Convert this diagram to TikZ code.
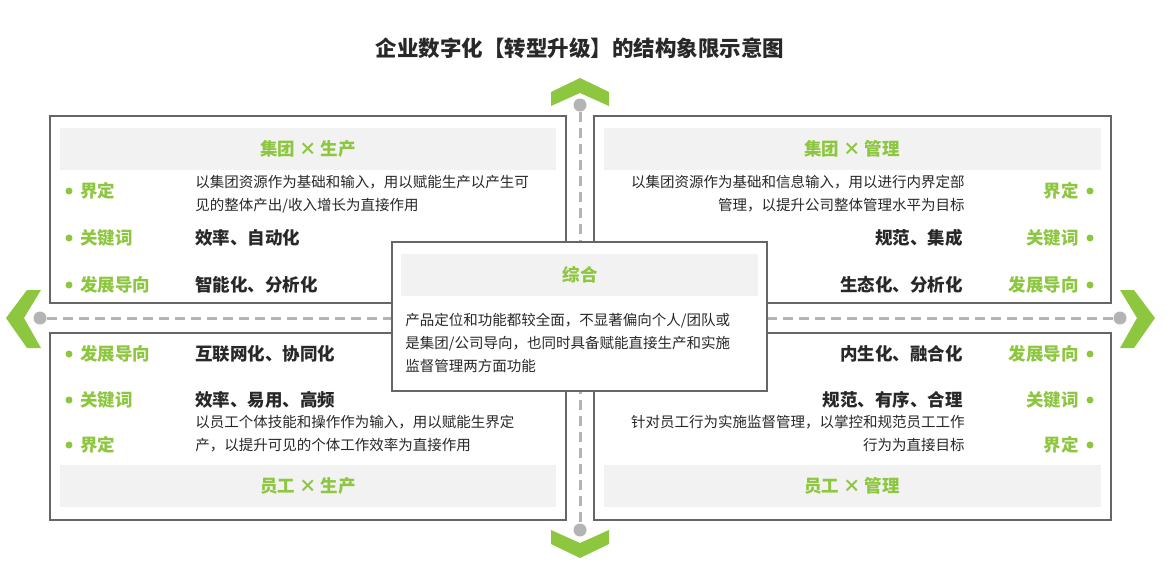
\documentclass[tikz,border=0pt]{standalone}
\usepackage{fontspec}
\setmainfont{Noto Sans CJK SC}
\usetikzlibrary{positioning}
\definecolor{lgreen}{RGB}{141,198,63}
\definecolor{frame}{RGB}{102,102,102}
\definecolor{head}{RGB}{242,242,242}
\definecolor{dash}{RGB}{180,180,180}
\definecolor{txt}{RGB}{40,40,40}
\tikzset{every picture/.style={line width=0.75pt}}
\tikzset{
  quad/.style={draw=frame, line width=2pt, fill=white},
  headbar/.style={fill=head},
  headtxt/.style={text=lgreen, font=\fontsize{17.5}{19}\selectfont\bfseries, inner sep=0pt},
  lab/.style={text=lgreen, font=\fontsize{17.5}{19}\selectfont\bfseries, inner sep=0pt},
  key/.style={text=txt, font=\fontsize{17.5}{19}\selectfont\bfseries, inner sep=0pt},
  desc/.style={text=txt, font=\fontsize{14.5}{23}\selectfont, inner sep=0pt},
  bullet/.style={circle, fill=lgreen, inner sep=0pt, minimum size=7pt},
  chev/.style={fill=lgreen, draw=none},
  axis/.style={draw=dash, line width=3pt, dash pattern=on 10pt off 6pt},
  knob/.style={circle, fill=dash, inner sep=0pt, minimum size=13pt}
}
\begin{document}
\begin{tikzpicture}[x=1pt,y=1pt,yscale=-1]
\useasboundingbox (0,0) rectangle (1167,582);

% title
\node[text=txt, font=\fontsize{21.5}{23}\selectfont\bfseries] (title) at (580,48) {企业数字化【转型升级】的结构象限示意图};

% axes
\node[knob] (kt) at (580,105) {};
\node[knob] (kb) at (580,530) {};
\node[knob] (kl) at (40,318) {};
\node[knob] (kr) at (1120,318) {};
\draw[axis] (kt) -- (kb);
\draw[axis] (kl) -- (kr);

% chevrons
\fill[chev] (551,106) -- (551,92) -- (580,78) -- (609,92) -- (609,106) -- (580,93) -- cycle;
\fill[chev] (551,530) -- (551,544) -- (580,558) -- (609,544) -- (609,530) -- (580,543) -- cycle;
\fill[chev] (41,290) -- (27,290) -- (6,318) -- (27,348) -- (41,348) -- (24,318) -- cycle;
\fill[chev] (1120,290) -- (1134,290) -- (1155,318) -- (1134,348) -- (1120,348) -- (1137,318) -- cycle;

% quadrants
\draw[quad] (50,116) rectangle (566,303);
\draw[quad] (594,116) rectangle (1111,303);
\draw[quad] (50,333) rectangle (566,520);
\draw[quad] (594,333) rectangle (1111,520);
\fill[headbar] (60,128) rectangle (556,170);
\fill[headbar] (604,128) rectangle (1101,170);
\fill[headbar] (60,465) rectangle (556,507);
\fill[headbar] (604,465) rectangle (1101,507);
\node[headtxt] (h1) at (308,149) {集团 × 生产};
\node[headtxt] (h2) at (852,149) {集团 × 管理};
\node[headtxt] (h3) at (308,486) {员工 × 生产};
\node[headtxt] (h4) at (852,486) {员工 × 管理};

% top left
\foreach \y/\t in {191/界定, 238/关键词, 285/发展导向}{
  \node[bullet] at (69,\y) {};
  \node[lab, anchor=west] at (80,\y) {\t};
}
\node[desc, anchor=north west, align=left] (d1) at (195,175) {以集团资源作为基础和输入，用以赋能生产以产生可\\见的整体产出/收入增长为直接作用};
\node[key, anchor=west] (k1) at (195,238) {效率、自动化};
\node[key, anchor=west] (g1) at (195,285) {智能化、分析化};

% top right
\foreach \y/\t in {191/界定, 238/关键词, 285/发展导向}{
  \node[bullet] at (1090,\y) {};
  \node[lab, anchor=east] at (1079,\y) {\t};
}
\node[desc, anchor=north east, align=right] (d2) at (965,175) {以集团资源作为基础和信息输入，用以进行内界定部\\管理，以提升公司整体管理水平为目标};
\node[key, anchor=east] (k2) at (963,238) {规范、集成};
\node[key, anchor=east] (g2) at (963,285) {生态化、分析化};

% bottom left
\foreach \y/\t in {354/发展导向, 400/关键词, 445/界定}{
  \node[bullet] at (69,\y) {};
  \node[lab, anchor=west] at (80,\y) {\t};
}
\node[key, anchor=west] (g3) at (195,354) {互联网化、协同化};
\node[key, anchor=west] (k3) at (195,400) {效率、易用、高频};
\node[desc, anchor=north west, align=left] (d3) at (195,415) {以员工个体技能和操作作为输入，用以赋能生界定\\产，以提升可见的个体工作效率为直接作用};

% bottom right
\foreach \y/\t in {354/发展导向, 400/关键词, 445/界定}{
  \node[bullet] at (1090,\y) {};
  \node[lab, anchor=east] at (1079,\y) {\t};
}
\node[key, anchor=east] (g4) at (963,354) {内生化、融合化};
\node[key, anchor=east] (k4) at (963,400) {规范、有序、合理};
\node[desc, anchor=north east, align=right] (d4) at (965,415) {针对员工行为实施监督管理，以掌控和规范员工工作\\行为为直接目标};

% centre
\draw[quad] (392,242) rectangle (767,391);
\fill[headbar] (401,254) rectangle (758,296);
\node[headtxt] (hc) at (580,275) {综合};
\node[desc, anchor=north west, align=left] (dc) at (405,313) {产品定位和功能都较全面，不显著偏向个人/团队或\\是集团/公司导向，也同时具备赋能直接生产和实施\\监督管理两方面功能};

\end{tikzpicture}
\end{document}
